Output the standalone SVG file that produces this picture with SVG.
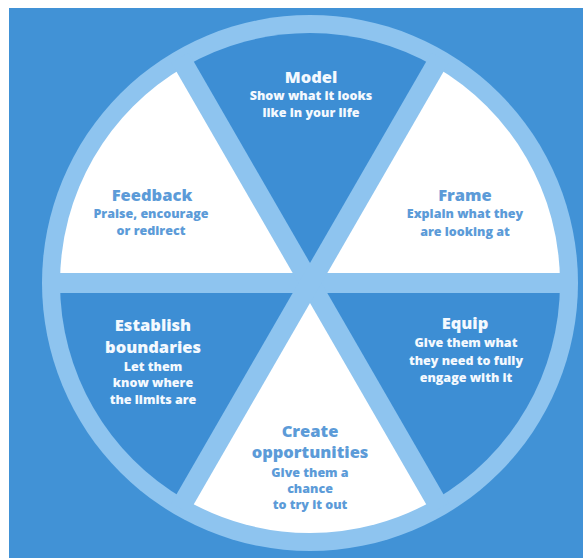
<svg xmlns="http://www.w3.org/2000/svg" width="583" height="558" viewBox="0 0 583 558">
  <style>
    .dark { fill: #3d8ed4; }
    .light { fill: #ffffff; }
    .spoke { stroke: #8ec4ef; stroke-width: 20; }
    text { font-family: "Open Sans", "Liberation Sans", sans-serif; font-weight: 800; text-anchor: middle; }
    .t { font-size: 16.5px; }
    .b { font-size: 12.5px; }
    .onDark { fill: #f4f9fe; }
    .onLight { fill: #5c9bd8; }
  </style>
  <rect x="0" y="0" width="583" height="558" fill="#ffffff"/>
  <rect x="9" y="8" width="574" height="550" fill="#4192d6"/>

  <!-- outer ring -->
  <circle cx="310" cy="283" r="268" fill="#8ec4ef"/>

  <g id="model">
    <path class="dark" d="M310,283 L185,66.49 A250,250 0 0 1 435,66.49 Z"/>
    <text class="t onDark" x="311" y="83">Model</text>
    <text class="b onDark" x="311" y="100">Show what it looks</text>
    <text class="b onDark" x="311" y="117">like in your life</text>
  </g>

  <g id="frame">
    <path class="light" d="M310,283 L435,66.49 A250,250 0 0 1 560,283 Z"/>
    <text class="t onLight" x="465" y="201">Frame</text>
    <text class="b onLight" x="465" y="218">Explain what they</text>
    <text class="b onLight" x="465" y="236">are looking at</text>
  </g>

  <g id="equip">
    <path class="dark" d="M310,283 L560,283 A250,250 0 0 1 435,499.51 Z"/>
    <text class="t onDark" x="465" y="329">Equip</text>
    <text class="b onDark" x="466" y="347">Give them what</text>
    <text class="b onDark" x="466" y="365">they need to fully</text>
    <text class="b onDark" x="466" y="382">engage with it</text>
  </g>

  <g id="create">
    <path class="light" d="M310,283 L435,499.51 A250,250 0 0 1 185,499.51 Z"/>
    <text class="t onLight" x="310" y="437">Create</text>
    <text class="t onLight" x="310" y="458">opportunities</text>
    <text class="b onLight" x="310" y="477">Give them a</text>
    <text class="b onLight" x="310" y="493">chance</text>
    <text class="b onLight" x="310" y="509">to try it out</text>
  </g>

  <g id="boundaries">
    <path class="dark" d="M310,283 L185,499.51 A250,250 0 0 1 60,283 Z"/>
    <text class="t onDark" x="153" y="331">Establish</text>
    <text class="t onDark" x="153" y="353">boundaries</text>
    <text class="b onDark" x="153" y="371">Let them</text>
    <text class="b onDark" x="153" y="387">know where</text>
    <text class="b onDark" x="153" y="404">the limits are</text>
  </g>

  <g id="feedback">
    <path class="light" d="M310,283 L60,283 A250,250 0 0 1 185,66.49 Z"/>
    <text class="t onLight" x="152" y="201">Feedback</text>
    <text class="b onLight" x="151" y="218">Praise, encourage</text>
    <text class="b onLight" x="151" y="235">or redirect</text>
  </g>

  <!-- dividing spokes -->
  <g id="connectors">
    <line class="spoke" x1="50" y1="283" x2="570" y2="283"/>
    <line class="spoke" x1="180" y1="57.83" x2="440" y2="508.17"/>
    <line class="spoke" x1="440" y1="57.83" x2="180" y2="508.17"/>
  </g>
</svg>
